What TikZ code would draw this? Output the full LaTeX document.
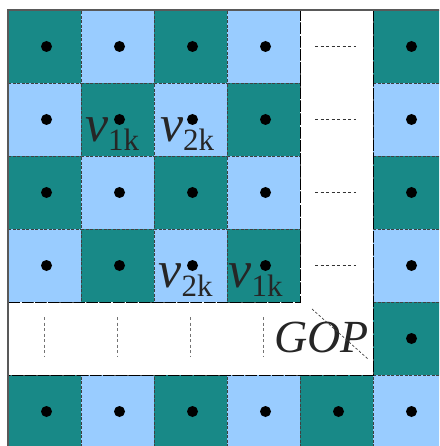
\documentclass[tikz,border=0pt]{standalone}
\usepackage{fontspec}
\setmainfont{Liberation Serif}
\usepackage{xcolor}
\usetikzlibrary{positioning,calc}
\definecolor{tealcell}{RGB}{24,137,135}
\definecolor{skycell}{RGB}{153,204,255}

\begin{document}
\begin{tikzpicture}[
      x=1pt, y=-1pt,
      every node/.style={inner sep=0pt, outer sep=0pt},
      cellbox/.style={minimum size=73pt, draw=black!75, line width=0.7pt, dash pattern=on 3pt off 1.5pt},
      kind1/.style={cellbox, fill=tealcell},
      kind2/.style={cellbox, fill=skycell},
      dotmark/.style={circle, fill=black, minimum size=11pt},
      gapline/.style={black, line width=0.9pt, dash pattern=on 11pt off 2pt},
      skipmark/.style={black!80, line width=0.7pt, dash pattern=on 3pt off 2.5pt},
      slash/.style={black!75, line width=0.7pt, dash pattern=on 2.5pt off 2pt},
      frame/.style={black!65, line width=1.6pt},
      lab/.style={anchor=base west, text=black!85},
      big/.style={font=\fontsize{52}{52}\selectfont\itshape},
    ]
    \useasboundingbox (0,0) rectangle (439,446);
    \clip (0,0) rectangle (439,446);
    % cells: 0 = gap, 1 = teal, 2 = sky
    \foreach \rowcodes [count=\i from 0] in {{1,2,1,2,0,1},{2,1,2,1,0,2},{1,2,1,2,0,1},{2,1,2,1,0,2},{0,0,0,0,0,1},{1,2,1,2,1,2}}
      \foreach \c [count=\j from 0] in \rowcodes {
        \ifnum\c>0
          \node[kind\c] (c\i\j) at ({8+73*(\j+0.5)},{10+73*(\i+0.5)}) {};
          \node[dotmark] (d\i\j) at ([xshift=2pt]c\i\j.center) {};
        \fi
      };
    % gap borders
    \draw[gapline] (c03.north east) -- (c33.south east) -- (c30.south west);
    \draw[gapline] (c05.north west) -- (c45.south west) -- (c50.north west);
    % ellipsis marks
    \foreach \i in {0,...,3}
      \draw[skipmark] ($(c\i3.east)+(15,0)$) -- ($(c\i3.east)+(56,0)$);
    \foreach \j in {0,...,3}
      \draw[skipmark, black!55] ($(c3\j.south)+(0,15)$) -- ($(c3\j.south)+(0,55)$);
    % outer frame
    \draw[frame] (c50.south west) -- (c00.north west) -- (c05.north east);
    % labels
    \node[lab] (v1a) at ($(c11.south west)+(4,-14)$) {{\fontsize{52}{52}\selectfont\itshape v}\raisebox{-8.5pt}{\fontsize{31}{31}\selectfont 1k}};
    \node[lab] (v2a) at ($(c12.south west)+(6,-14)$) {{\fontsize{52}{52}\selectfont\itshape v}\raisebox{-8.5pt}{\fontsize{31}{31}\selectfont 2k}};
    \node[lab] (v2b) at ($(c32.south west)+(4.5,-15)$) {{\fontsize{52}{52}\selectfont\itshape v}\raisebox{-9.5pt}{\fontsize{31}{31}\selectfont 2k}};
    \node[lab] (v1b) at ($(c33.south west)+(1.5,-15)$) {{\fontsize{52}{52}\selectfont\itshape v}\raisebox{-9.5pt}{\fontsize{31}{31}\selectfont 1k}};
    \node[lab] (gop) at ($(c33.south east)+(-26,50)$) {\fontsize{46}{46}\selectfont\itshape GOP};
    % slash across GOP
    \coordinate (slashA) at ($(c33.south east)+(12,7)$);
    \coordinate (slashB) at ($(c45.south west)+(-5,-16)$);
    \draw[slash] (slashA) -- (slashB);
  \end{tikzpicture}
\end{document}
